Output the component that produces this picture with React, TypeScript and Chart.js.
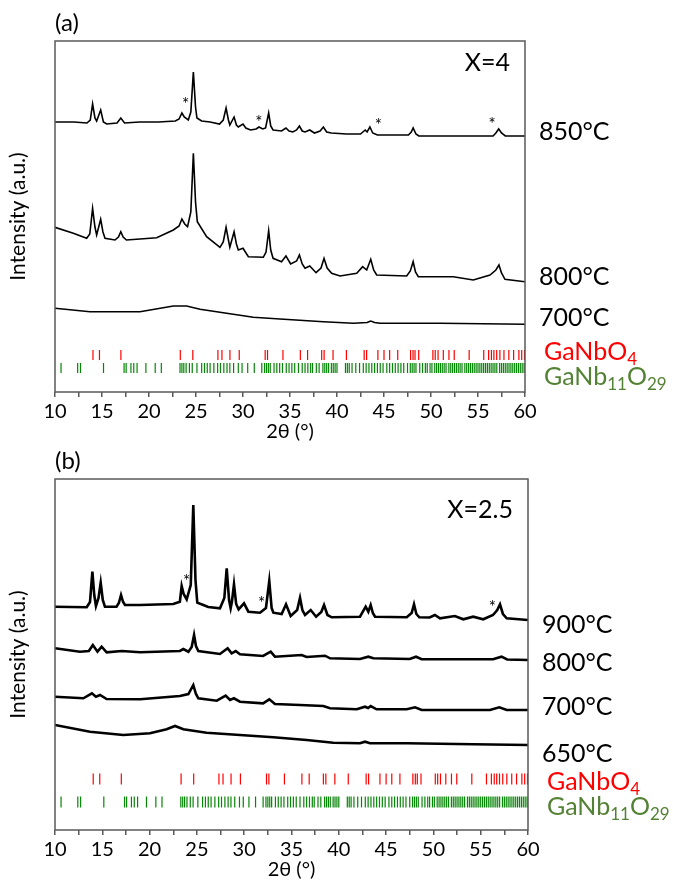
import React, { useEffect, useRef } from 'react';
import { Chart, registerables } from 'chart.js';

Chart.register(...registerables);

const FONT = "Lato, 'Open Sans', 'DejaVu Sans', sans-serif";

type Pt = [number, number];

// ---------- Panel (a): X=4 ----------
const a850: Pt[] = [[10,270],[12,270],[13.4,269],[13.75,272],[14.0,288],[14.25,274],[14.43,271],[14.86,282],[15.15,270],[15.5,268],[16.6,269],[17.0,274],[17.4,269],[19,270],[21,270],[22.8,271],[23.2,273],[23.5,279],[23.75,275],[24.18,272],[24.45,280],[24.72,320],[24.95,285],[25.1,274],[25.6,271],[26.5,270],[27.5,268],[27.9,272],[28.2,284],[28.45,272],[28.6,267],[29.05,275],[29.3,267],[29.5,265],[30.0,268],[30.3,264],[30.8,262],[31.4,263],[31.7,265],[32.1,263],[32.4,264],[32.73,279],[32.95,266],[33.2,262],[34.1,261],[34.57,264],[34.9,261],[35.3,260],[35.7,262],[36.0,266],[36.3,261],[36.6,260],[37.1,262],[37.6,259],[38.2,261],[38.55,265],[38.9,260],[39.4,259],[41,258],[42.5,258],[43.0,262],[43.2,260],[43.5,265],[43.8,259],[44.3,257],[46,257],[47.6,257],[47.9,260],[48.1,264],[48.4,258],[48.7,256],[52,256],[55,256],[56.6,256],[56.9,259],[57.2,263],[57.5,259],[57.9,256],[60,256]];
const a800: Pt[] = [[10,164.7],[11.95,158.7],[13.37,153.7],[13.7,158],[14.0,183.7],[14.25,165],[14.43,157],[14.86,172.7],[15.1,160],[15.32,153.7],[16.38,152],[16.75,155],[17.0,160.3],[17.25,155],[17.6,152],[19.04,153],[20.82,154.3],[22.59,162],[23.2,166],[23.5,173],[23.8,168],[24.1,165.3],[24.45,180],[24.72,238.7],[24.95,190],[25.14,170.3],[26.13,155.3],[27.55,144.7],[27.9,150],[28.2,164.7],[28.45,152],[28.6,144.7],[29.05,160.3],[29.3,148],[29.5,142],[30.0,143.7],[30.57,135.3],[32.16,134.7],[32.45,140],[32.73,161.3],[32.95,142],[33.2,133.7],[34.1,130.3],[34.57,136],[35.07,128],[35.7,131],[36.0,137],[36.3,128],[36.6,123.7],[37.1,126],[37.77,119.3],[38.3,124],[38.62,133.7],[38.95,124],[39.43,118.7],[40.32,116],[42.1,118.7],[42.73,125.3],[43.16,122],[43.59,132.7],[43.9,122],[44.22,117],[47.41,116],[47.8,121],[48.1,130.3],[48.35,120],[48.65,115.3],[52.37,115.3],[54.5,112],[56.28,117],[56.9,122],[57.23,127],[57.5,119],[57.87,112.7],[60,110.3]];
const a700: Pt[] = [[10,83.7],[13.72,80.3],[19.04,80.3],[22.59,86],[24.0,86],[25.43,82.7],[28.26,78.7],[31.1,74.7],[33.94,73],[38.55,70.3],[41.74,68.7],[43.2,69.5],[43.59,71],[44.0,69.5],[44.57,68.7],[50.96,68.7],[60,67.7]];
const aStars: Pt[] = [[23.9,287],[31.7,269],[44.4,266],[56.5,267]];
const aTemps: [string, number][] = [['850°C',260],['800°C',115],['700°C',74]];

// ---------- Panel (b): X=2.5 ----------
const b900: Pt[] = [[10,223.3],[13.35,222.7],[13.7,228],[13.95,258.3],[14.15,235],[14.33,224],[14.6,232],[14.83,247.3],[15.05,230],[15.28,223.3],[16.5,223.3],[16.75,227],[16.98,235],[17.2,228],[17.4,225],[19,225],[22.5,226],[23.2,228.3],[23.39,244],[23.6,236],[23.92,230.7],[24.35,245],[24.62,325],[24.85,250],[25.04,227.3],[25.68,225],[26.2,223],[27.44,221.7],[27.9,232],[28.15,261.7],[28.4,230],[28.57,221.7],[28.7,228],[28.92,245.7],[29.15,226],[29.41,220.7],[29.98,226.7],[30.44,218.3],[31.67,217.3],[32.3,222],[32.65,249],[32.9,222],[33.08,217.3],[33.96,216],[34.42,225.7],[34.91,214],[35.6,220],[35.9,232.3],[36.15,220],[36.43,215],[37.03,220],[37.6,213.3],[38.15,218],[38.44,225],[38.8,215],[39.25,212.7],[42.24,213.3],[42.84,223.3],[43.12,218.3],[43.37,225],[43.6,217],[43.83,213.3],[47.18,212.7],[47.7,217],[47.95,225.7],[48.2,216],[48.51,212.7],[49.6,212.5],[50.16,215],[50.7,211.7],[52.27,214],[53.16,210.7],[54.2,213.3],[55.27,210.7],[56.3,215],[56.75,220],[57.04,225.7],[57.35,216],[57.75,211.7],[60,210]];
const b800: Pt[] = [[10,181.7],[12.64,178.3],[13.58,179],[14.0,185],[14.49,178.3],[14.93,183.3],[15.46,177.7],[17.05,179],[19,177.7],[23.2,179],[23.57,181],[24.1,178.3],[24.45,183],[24.7,195],[24.9,184],[25.15,179],[27.44,176],[28.25,181.7],[28.67,176.7],[29.1,179],[29.55,175.7],[32.0,174],[32.8,178.3],[33.25,173.3],[36.07,175],[36.6,173],[38.55,174.3],[39.07,171.7],[42.24,171],[43.12,173.3],[43.65,171.7],[47.5,171],[48.16,173.3],[48.76,170.7],[56.3,170.7],[57.2,173.3],[57.8,170.5],[60,170]];
const b700: Pt[] = [[10,133.3],[13.0,131.7],[13.9,136.7],[14.33,133.3],[14.76,135],[15.46,131],[19,130.7],[23.2,134],[24.1,136],[24.62,145],[24.9,136],[25.15,131.7],[27.1,129.3],[28.04,134.3],[28.5,130],[28.92,131.7],[29.55,128.3],[32.0,126.7],[32.65,130.7],[33.25,126],[35.9,125],[38.37,124],[39.07,121.7],[41.9,120.7],[42.77,123.3],[43.1,122],[43.37,124],[44.0,120.7],[47.18,120.7],[48.06,122.7],[48.76,120],[55.98,120],[56.97,122.7],[57.75,120],[60,120]];
const b650: Pt[] = [[10,105],[13.7,98.3],[17.22,95],[20.04,96.7],[21.8,100.7],[22.69,104],[23.57,100.7],[26.03,97.3],[29.55,95],[33.08,92.7],[36.6,90],[39.42,87.3],[42.24,86.7],[42.77,88.3],[43.3,86.7],[47.18,86.7],[54.2,85.7],[60,85]];
const bStars: Pt[] = [[23.92,248.3],[31.85,226],[56.23,222.7]];
const bTemps: [string, number][] = [['900°C',205],['800°C',167],['700°C',123],['650°C',76]];

// ---------- Reference reflections ----------
const gaNbO4Pos: number[] = [14.04,14.73,17.01,23.33,24.66,27.33,27.76,28.61,29.6,32.36,32.61,34.25,36.1,36.87,38.37,38.63,39.58,41.0,42.89,43.15,44.35,45.0,45.6,46.46,47.83,48.09,48.3,48.69,50.2,50.45,50.75,51.31,51.91,52.47,54.06,55.61,56.13,56.43,56.69,56.99,57.33,57.76,58.28,58.79,59.35,59.65,59.95];
const gaNb11O29Pos: number[] = [10.64,12.41,12.71,15.16,17.35,17.57,18.08,18.38,18.73,19.67,20.66,21.31,23.3,23.5,23.7,23.95,24.3,24.6,25.1,25.6,25.9,26.2,26.5,26.9,27.3,27.6,27.96,28.3,28.6,29.0,29.5,29.9,30.5,31.2,32.0,32.3,32.5,32.7,32.9,33.3,33.6,33.9,34.2,34.6,34.9,35.2,35.5,35.9,36.3,36.6,36.9,37.2,37.4,37.8,38.1,38.5,38.7,38.9,39.1,39.4,39.6,39.8,40.0,40.9,41.1,41.3,41.6,42.0,42.4,42.8,43.1,43.4,43.7,44.0,44.3,44.6,44.9,45.3,45.6,45.9,46.2,46.5,46.8,47.1,47.5,47.8,48.0,48.2,48.4,48.8,49.1,49.4,49.6,49.9,50.1,50.4,50.6,50.8,51.0,51.2,51.4,51.6,51.9,52.1,52.3,52.5,52.7,52.9,53.1,53.3,53.6,53.8,54.0,54.2,54.4,54.6,54.8,55.0,55.2,55.4,55.6,55.8,56.0,56.2,56.4,56.6,56.8,57.0,57.3,57.5,57.7,57.9,58.1,58.3,58.5,58.7,58.9,59.1,59.3,59.5,59.7,59.9];

const xTicks = { min: 10, max: 60, step: 2.5, labelEvery: 5 };

interface PanelCfg {
  letter: string;
  sample: string;
  sampleY: number;
  traces: Pt[][];
  lineWidth: number;
  stars: Pt[];
  temps: [string, number][];
  redLevel: number;
  greenLevel: number;
  redLabelY: number;
  greenLabelY: number;
  tickHalf: number;
  padTop: number;
  padRight: number;
  padBottom: number;
  yMax: number;
}

const panelA: PanelCfg = {
  letter: '(a)', sample: 'X=4', sampleY: 329, traces: [a850, a800, a700], lineWidth: 1.6,
  stars: aStars, temps: aTemps, redLevel: 37, greenLevel: 24, redLabelY: 40, greenLabelY: 15,
  tickHalf: 5, padTop: 41, padRight: 148, padBottom: 1, yMax: 351,
};
const panelB: PanelCfg = {
  letter: '(b)', sample: 'X=2.5', sampleY: 320, traces: [b900, b800, b700, b650], lineWidth: 2.6,
  stars: bStars, temps: bTemps, redLevel: 51, greenLevel: 28, redLabelY: 48, greenLabelY: 23,
  tickHalf: 5.5, padTop: 34, padRight: 145, padBottom: 8, yMax: 351,
};

function makeOverlay(cfg: PanelCfg) {
  return {
    id: 'overlay' + cfg.letter,
    afterDatasetsDraw(chart: any) {
      const { ctx, chartArea: ca, scales } = chart;
      const xs = scales.x, ys = scales.y;
      ctx.save();
      ctx.strokeStyle = '#595959';
      ctx.lineWidth = 1.5;
      ctx.strokeRect(ca.left, ca.top, ca.right - ca.left, ca.bottom - ca.top);

      ctx.fillStyle = '#000';
      ctx.textBaseline = 'middle';
      ctx.textAlign = 'center';
      ctx.font = `17px ${FONT}`;
      cfg.stars.forEach(([x, y]) => ctx.fillText('*', xs.getPixelForValue(x), ys.getPixelForValue(y)));

      ctx.font = `24px ${FONT}`;
      ctx.textAlign = 'left';
      ctx.fillText(cfg.letter, ca.left, ca.top - 18);

      ctx.font = `25px ${FONT}`;
      ctx.textAlign = 'right';
      ctx.fillText(cfg.sample, ca.right - 15, ys.getPixelForValue(cfg.sampleY));

      ctx.textAlign = 'left';
      cfg.temps.forEach(([t, v]) => ctx.fillText(t, ca.right + 14, ys.getPixelForValue(v)));

      const drawParts = (parts: [string, boolean][], x0: number, y: number, color: string) => {
        ctx.fillStyle = color;
        let x = x0;
        parts.forEach(([s, sub]) => {
          ctx.font = sub ? `17px ${FONT}` : `25px ${FONT}`;
          ctx.fillText(s, x, sub ? y + 8 : y);
          x += ctx.measureText(s).width;
        });
      };
      drawParts([['GaNbO', false], ['4', true]], ca.right + 19, ys.getPixelForValue(cfg.redLabelY), '#ff0000');
      drawParts([['GaNb', false], ['11', true], ['O', false], ['29', true]], ca.right + 19, ys.getPixelForValue(cfg.greenLabelY), '#548235');
      ctx.restore();
    },
  };
}

function buildConfig(cfg: PanelCfg): any {
  const traceSets = cfg.traces.map((t) => ({
    data: t.map(([x, y]) => ({ x, y })),
    showLine: true,
    borderColor: '#000',
    borderWidth: cfg.lineWidth,
    pointRadius: 0,
    tension: 0,
    fill: false,
  }));
  const tickSet = (pos: number[], level: number, color: string) => ({
    data: pos.map((x) => ({ x, y: level })),
    showLine: false,
    pointStyle: 'line',
    rotation: 90,
    pointRadius: cfg.tickHalf,
    pointBorderWidth: 1.2,
    borderColor: color,
    pointBorderColor: color,
    backgroundColor: color,
  });
  return {
    type: 'scatter',
    data: {
      datasets: [
        ...traceSets,
        tickSet(gaNbO4Pos, cfg.redLevel, '#ff0000'),
        tickSet(gaNb11O29Pos, cfg.greenLevel, '#078507'),
      ],
    },
    options: {
      animation: false,
      responsive: false,
      events: [],
      layout: { padding: { left: 0, top: cfg.padTop, right: cfg.padRight, bottom: cfg.padBottom } },
      plugins: { legend: { display: false }, tooltip: { enabled: false } },
      scales: {
        x: {
          type: 'linear',
          min: xTicks.min,
          max: xTicks.max,
          afterFit: (s: any) => { s.height = 52; },
          ticks: {
            stepSize: xTicks.step,
            autoSkip: false,
            maxRotation: 0,
            minRotation: 0,
            padding: 3,
            color: '#000',
            font: { family: FONT, size: 20 },
            callback: (v: number) => (v % xTicks.labelEvery === 0 ? String(v) : ''),
          },
          grid: { display: true, drawOnChartArea: false, drawTicks: true, tickLength: 5, color: '#595959', lineWidth: 1.5 },
          border: { display: false },
          title: { display: true, text: '2θ (°)', color: '#000', font: { family: FONT, size: 20 }, padding: { top: 0, bottom: 0 } },
        },
        y: {
          type: 'linear',
          min: 0,
          max: cfg.yMax,
          afterFit: (s: any) => { s.width = 55; },
          ticks: { display: false },
          grid: { display: false },
          border: { display: false },
          title: { display: true, text: 'Intensity (a.u.)', color: '#000', font: { family: FONT, size: 21 }, padding: { top: 6, bottom: 0 } },
        },
      },
    },
    plugins: [makeOverlay(cfg)],
  };
}

export default function App() {
  const refA = useRef<HTMLCanvasElement>(null);
  const refB = useRef<HTMLCanvasElement>(null);
  useEffect(() => {
    const ca = new Chart(refA.current as HTMLCanvasElement, buildConfig(panelA));
    const cb = new Chart(refB.current as HTMLCanvasElement, buildConfig(panelB));
    return () => { ca.destroy(); cb.destroy(); };
  }, []);
  return (
    <div style={{ position: 'absolute', left: 0, top: 0, width: 673, height: 890, background: '#fff' }}>
      <canvas ref={refA} width={673} height={445} style={{ position: 'absolute', left: 0, top: 0, width: 673, height: 445 }} />
      <canvas ref={refB} width={673} height={445} style={{ position: 'absolute', left: 0, top: 445, width: 673, height: 445 }} />
    </div>
  );
}
